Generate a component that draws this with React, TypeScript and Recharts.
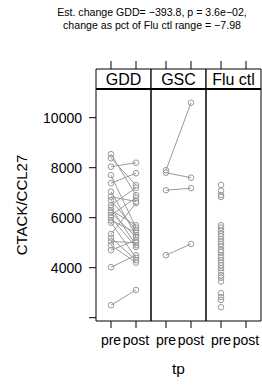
import React from 'react';
import { ComposedChart, Scatter, XAxis, YAxis, ReferenceArea, ReferenceLine, Label } from 'recharts';

const panels = ['GDD', 'GSC', 'Flu ctl'];
const timepoints = ['pre', 'post'];
const yTicks = [2000, 4000, 6000, 8000, 10000];
const yTickLabels = ['', '4000', '6000', '8000', '10000'];
const titleLines = ['Est. change GDD= \u2212393.8, p = 3.6e\u221202,', 'change as pct of Flu ctl range = \u22127.98'];
const yTitle = 'CTACK/CCL27';
const xTitle = 'tp';

const gddPre = [8540, 8380, 8040, 7700, 7380, 7040, 6840, 6700, 6500, 6400, 6300, 6200, 6100, 6000, 5900, 5800, 5350, 5200, 5050, 4900, 4700, 4020, 2500];
const gddPost = [6900, 7300, 8200, 5600, 7780, 5300, 6650, 5500, 7200, 4900, 5700, 5230, 6800, 4830, 5400, 4400, 6580, 4300, 5000, 4200, 5100, 4500, 3110];
const gscPre = [7900, 7800, 7100, 4500];
const gscPost = [10600, 7600, 7180, 4950];
const fluPre = [7310, 7080, 6910, 6830, 5700, 5600, 5480, 5350, 5250, 5150, 5050, 4950, 4850, 4700, 4620, 4500, 4400, 4300, 4200, 4100, 3980, 3850, 3700, 3600, 3450, 2980, 2830, 2710, 2420];

// lattice factor layout: each panel spans 2.2 units, levels at 0.6 and 1.6 within it
const PANEL_W = 2.2;
const levelPos = (panel: number, level: number) => panel * PANEL_W + 0.6 + level;
const yMin = 1868;
const yPanelTop = 11148;
const yStripTop = 11948;
const GREY = '#9a9a9a';

const Ring = (props: any) => {
  const { cx, cy } = props;
  if (cx == null || cy == null) return null;
  return <circle cx={cx} cy={cy} r={2.8} fill="none" stroke={GREY} strokeWidth={1} />;
};

const pairSeries = (pre: number[], post: number[], panel: number) =>
  pre.map((v, i) => [
    { x: levelPos(panel, 0), y: v },
    { x: levelPos(panel, 1), y: post[i] },
  ]);

const gddPairs = pairSeries(gddPre, gddPost, 0);
const gscPairs = pairSeries(gscPre, gscPost, 1);
const fluPoints = fluPre.map((v) => ({ x: levelPos(2, 0), y: v }));

const xTicks = [0, 1, 2].flatMap((p) => [levelPos(p, 0), levelPos(p, 1)]);
const FONT = '"Liberation Sans", Arial, Helvetica, sans-serif';

export default function App() {
  return (
    <div style={{ position: 'absolute', left: 0, top: 0, width: 262, height: 386, background: '#fff', fontFamily: FONT }}>
      <div style={{ position: 'absolute', left: 42, top: 6, width: 220, textAlign: 'center', fontSize: 10.6, lineHeight: '13px', color: '#000', whiteSpace: 'nowrap' }}>
        <div>{titleLines[0]}</div>
        <div>{titleLines[1]}</div>
      </div>
      <ComposedChart width={262} height={386} margin={{ top: 61, right: 1, bottom: 0, left: 0 }} style={{ position: 'absolute', left: 0, top: 0 }}>
        <XAxis
          type="number"
          dataKey="x"
          domain={[0, PANEL_W * 3]}
          allowDataOverflow
          ticks={xTicks}
          interval={0}
          tickFormatter={(v: number, i: number) => timepoints[i % 2]}
          axisLine={false}
          tickLine={{ stroke: '#000' }}
          tickSize={7}
          tickMargin={7}
          height={65}
          tick={{ fill: '#000', fontSize: 14, fontFamily: FONT }}
        >
          <Label
            content={(p: any) => {
              const vb = p.viewBox || {};
              return (
                <text x={vb.x + vb.width / 2} y={374} textAnchor="middle" fontSize={15.5} fontFamily={FONT} fill="#000">
                  {xTitle}
                </text>
              );
            }}
          />
        </XAxis>
        <XAxis
          xAxisId="top"
          orientation="top"
          type="number"
          dataKey="x"
          domain={[0, PANEL_W * 3]}
          allowDataOverflow
          ticks={xTicks}
          interval={0}
          tickFormatter={() => ''}
          axisLine={false}
          tickLine={{ stroke: '#000' }}
          tickSize={8}
          height={8}
        />
        <YAxis
          type="number"
          dataKey="y"
          domain={[yMin, yStripTop]}
          allowDataOverflow
          ticks={yTicks}
          interval={0}
          tickFormatter={(v: number, i: number) => yTickLabels[yTicks.indexOf(v)]}
          axisLine={false}
          tickLine={{ stroke: '#000' }}
          tickSize={7}
          tickMargin={7}
          width={96}
          tick={{ fill: '#000', fontSize: 14, fontFamily: FONT }}
        >
          <Label
            content={() => (
              <text x={27} y={205} transform="rotate(-90 27 205)" textAnchor="middle" fontSize={15} fontFamily={FONT} fill="#000">
                {yTitle}
              </text>
            )}
          />
        </YAxis>
        {panels.map((name, p) => (
          <ReferenceArea
            key={'panel' + p}
            x1={p * PANEL_W}
            x2={(p + 1) * PANEL_W}
            y1={yMin}
            y2={yPanelTop}
            fill="none"
            stroke="#000"
            strokeWidth={1}
            ifOverflow="visible"
          />
        ))}
        {panels.map((name, p) => (
          <ReferenceArea
            key={'strip' + p}
            x1={p * PANEL_W}
            x2={(p + 1) * PANEL_W}
            y1={yPanelTop}
            y2={yStripTop}
            fill="#fff"
            stroke="#000"
            strokeWidth={1}
            ifOverflow="visible"
            label={{ value: name, position: 'center', fontSize: 16, fill: '#000', fontFamily: FONT }}
          />
        ))}
        <ReferenceLine y={yPanelTop} stroke="#000" strokeWidth={2} ifOverflow="visible" />
        {gddPairs.map((d, i) => (
          <Scatter key={'gdd' + i} data={d} stroke={GREY} fill="none" line={{ stroke: GREY, strokeWidth: 1 }} shape={Ring} isAnimationActive={false} />
        ))}
        {gscPairs.map((d, i) => (
          <Scatter key={'gsc' + i} data={d} stroke={GREY} fill="none" line={{ stroke: GREY, strokeWidth: 1 }} shape={Ring} isAnimationActive={false} />
        ))}
        <Scatter data={fluPoints} stroke={GREY} fill="none" shape={Ring} isAnimationActive={false} />
      </ComposedChart>
    </div>
  );
}
